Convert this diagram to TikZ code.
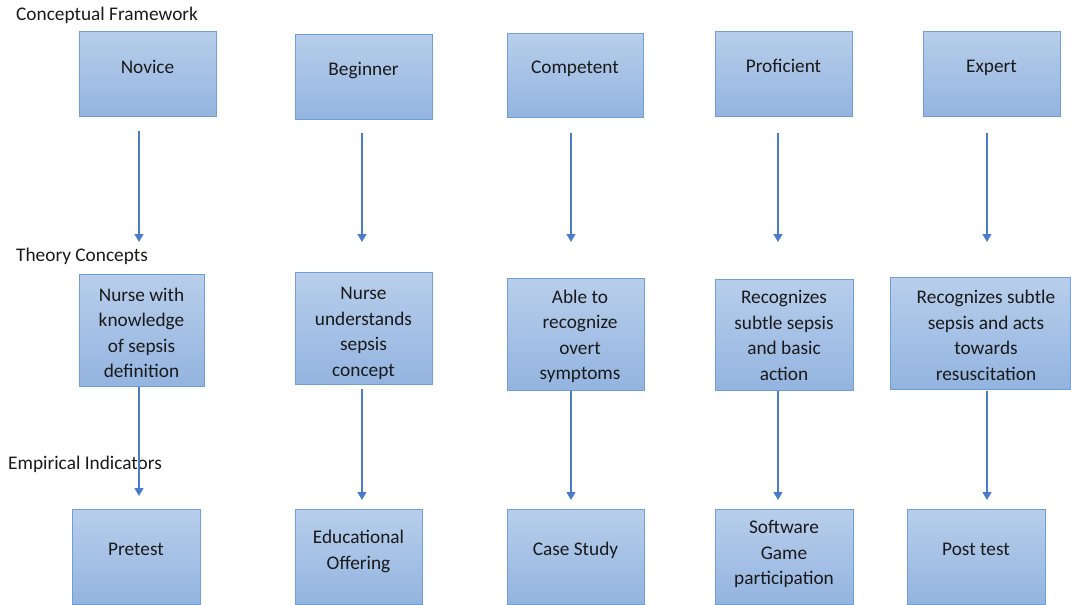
\documentclass[tikz,border=0pt]{standalone}
\usepackage{fontspec}
\setmainfont{Carlito}
\usetikzlibrary{arrows.meta}
\definecolor{boxtop}{HTML}{B8CEEB}
\definecolor{boxbot}{HTML}{93B4E0}
\definecolor{boxline}{HTML}{6E9FD9}
\definecolor{arrowc}{HTML}{4A7CC9}
\definecolor{txt}{HTML}{1A1A1A}
\begin{document}
\begin{tikzpicture}[x=1pt,y=-1pt,
  box/.style={draw=boxline, line width=1pt, top color=boxtop, bottom color=boxbot,
              inner sep=0pt, anchor=north west},
  boxtext/.style={text=txt, align=center, inner sep=0pt,
              font=\fontsize{19.3}{25.5}\selectfont},
  oneline/.style={text height=12.4pt, text depth=0pt},
  head/.style={text=txt, anchor=west, inner sep=0pt,
              font=\fontsize{19.3}{23}\selectfont},
  arr/.style={draw=arrowc, line width=1.3pt,
              -{Triangle[length=8pt,width=9pt]}}
]
\useasboundingbox (0,0) rectangle (1071,605);

% section labels
\node[head] (h1) at (16,15) {Conceptual Framework};
\node[head] (h2) at (16,256) {Theory Concepts};
\node[head] (h3) at (8,464) {Empirical Indicators};

% row 1
\node[box, minimum width=137pt, minimum height=85pt] (a1) at (79,31) {};
\node[box, minimum width=137pt, minimum height=85pt] (a2) at (295,34) {};
\node[box, minimum width=136pt, minimum height=84pt] (a3) at (507,33) {};
\node[box, minimum width=137pt, minimum height=85pt] (a4) at (715,31) {};
\node[box, minimum width=137pt, minimum height=85pt] (a5) at (923,31) {};
\node[boxtext, oneline] (ta1) at (147.5,67) {Novice};
\node[boxtext, oneline] (ta2) at (363.5,69) {Beginner};
\node[boxtext, oneline] (ta3) at (575,67) {Competent};
\node[boxtext, oneline] (ta4) at (783.5,66) {Proficient};
\node[boxtext, oneline] (ta5) at (991.5,66) {Expert};

% row 2
\node[box, minimum width=125pt, minimum height=112pt] (b1) at (79,274) {};
\node[box, minimum width=137pt, minimum height=112pt] (b2) at (295,272) {};
\node[box, minimum width=137pt, minimum height=112pt] (b3) at (507,278) {};
\node[box, minimum width=138pt, minimum height=111pt] (b4) at (715,279) {};
\node[box, minimum width=180pt, minimum height=112pt] (b5) at (890,277) {};
\node[boxtext] (tb1) at (141.5,333) {Nurse with\\knowledge\\of sepsis\\definition};
\node[boxtext] (tb2) at (363.5,333.5) {Nurse\\understands\\sepsis\\concept};
\node[boxtext] (tb3) at (580,336.5) {Able to\\recognize\\overt\\symptoms};
\node[boxtext] (tb4) at (784,335.5) {Recognizes\\subtle sepsis\\and basic\\action};
\node[boxtext] (tb5) at (986,335.5) {Recognizes subtle\\sepsis and acts\\towards\\resuscitation};

% row 3
\node[box, minimum width=128pt, minimum height=95pt] (c1) at (72,509) {};
\node[box, minimum width=127pt, minimum height=95pt] (c2) at (295,509) {};
\node[box, minimum width=137pt, minimum height=95pt] (c3) at (507,509) {};
\node[box, minimum width=138pt, minimum height=95pt] (c4) at (715,509) {};
\node[box, minimum width=138pt, minimum height=95pt] (c5) at (907,509) {};
\node[boxtext, oneline] (tc1) at (136,549) {Pretest};
\node[boxtext] (tc2) at (358.5,551.5) {Educational\\Offering};
\node[boxtext, oneline] (tc3) at (575.5,549) {Case Study};
\node[boxtext] (tc4) at (784,554) {Software\\Game\\participation};
\node[boxtext, oneline] (tc5) at (976,549) {Post test};

% arrows row 1 -> row 2
\draw[arr, shorten <=14pt, shorten >=32pt] (a1.south -| 139,0) -- (b1.north -| 139,0);
\draw[arr, shorten <=13pt, shorten >=30pt] (a2.south -| 362,0) -- (b2.north -| 362,0);
\draw[arr, shorten <=15pt, shorten >=36pt] (a3.south -| 571,0) -- (b3.north -| 571,0);
\draw[arr, shorten <=16pt, shorten >=37pt] (a4.south -| 778,0) -- (b4.north -| 778,0);
\draw[arr, shorten <=16pt, shorten >=35pt] (a5.south -| 987,0) -- (b5.north -| 987,0);

% arrows row 2 -> row 3
\draw[arr, shorten >=13pt] (b1.south -| 139,0) -- (c1.north -| 139,0);
\draw[arr, shorten <=4pt, shorten >=9pt] (b2.south -| 362,0) -- (c2.north -| 362,0);
\draw[arr, shorten >=9pt] (b3.south -| 571,0) -- (c3.north -| 571,0);
\draw[arr, shorten >=9pt] (b4.south -| 778,0) -- (c4.north -| 778,0);
\draw[arr, shorten <=1pt, shorten >=9pt] (b5.south -| 987,0) -- (c5.north -| 987,0);
\end{tikzpicture}
\end{document}
